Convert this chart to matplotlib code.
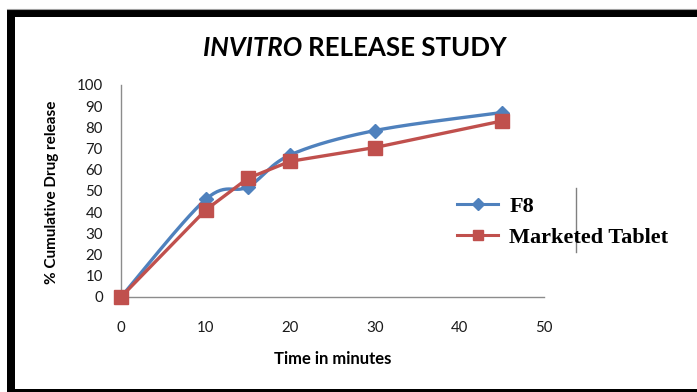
import numpy as np
import matplotlib
matplotlib.use("Agg")
import matplotlib.pyplot as plt
from matplotlib.patches import Rectangle
from matplotlib.lines import Line2D

# Dissolution data: time (min) vs % cumulative drug release
time_min = [0, 10, 15, 20, 30, 45]
f8_release = [0, 46, 52, 67, 78.5, 87]
marketed_release = [0, 41, 56, 64, 70.5, 83]
series_names = ["F8", "Marketed Tablet"]
x_ticks = [0, 10, 20, 30, 40, 50]
y_ticks = [0, 10, 20, 30, 40, 50, 60, 70, 80, 90, 100]

BLUE = "#4F81BD"
RED = "#C0504D"
W, H = 697, 392


def catmull_rom(xs, ys, sx, sy, n=30):
    """Smooth curve through the points (like a spreadsheet 'smoothed line')."""
    P = np.column_stack([np.asarray(xs, float) * sx, np.asarray(ys, float) * sy])
    P = np.vstack([P[0], P, P[-1]])
    out = []
    for i in range(1, len(P) - 2):
        p0, p1, p2, p3 = P[i - 1], P[i], P[i + 1], P[i + 2]
        t = np.linspace(0, 1, n)[:, None]
        seg = 0.5 * ((2 * p1) + (-p0 + p2) * t + (2 * p0 - 5 * p1 + 4 * p2 - p3) * t ** 2
                     + (-p0 + 3 * p1 - 3 * p2 + p3) * t ** 3)
        out.append(seg if i == len(P) - 3 else seg[:-1])
    C = np.vstack(out)
    return C[:, 0] / sx, C[:, 1] / sy


plt.rcParams["font.family"] = ["Lato", "DejaVu Sans"]

fig = plt.figure(figsize=(W / 100, H / 100), dpi=100)
fig.patch.set_facecolor("white")

def px(x, y):
    return x / W, 1 - y / H

l, b = px(121, 297)
r, t = px(544, 85)
ax = fig.add_axes([l, b, r - l, t - b])

sx, sy = 423 / 50, 212 / 100
cx, cy = catmull_rom(time_min, f8_release, sx, sy)
ax.plot(cx, cy, color=BLUE, lw=2.4, solid_capstyle="round", clip_on=False, zorder=3)
ax.plot(time_min, f8_release, ls="none", marker="D", ms=7, color=BLUE,
        clip_on=False, zorder=4)
h_f8 = Line2D([], [], color=BLUE, lw=2.2, marker="D", ms=6)

ax.plot(time_min, marketed_release, color=RED, lw=2.4, marker="s", ms=10,
        clip_on=False, zorder=5)
h_mk = Line2D([], [], color=RED, lw=2.2, marker="s", ms=7)

ax.set_xlim(0, 50)
ax.set_ylim(0, 100)
ax.set_xticks(x_ticks)
ax.set_yticks(y_ticks)
ax.tick_params(length=0, labelsize=10.8, colors="#1a1a1a")
ax.tick_params(axis="y", pad=13)
ax.tick_params(axis="x", pad=17)
for s in ("top", "right"):
    ax.spines[s].set_visible(False)
for s in ("left", "bottom"):
    ax.spines[s].set_color("#8c8c8c")
    ax.spines[s].set_linewidth(1.0)
ax.spines["bottom"].set_bounds(0, 50)

# Legend with a serif bold face
leg = fig.legend([h_f8, h_mk], series_names, loc="center left",
                 bbox_to_anchor=px(457, 222), frameon=False,
                 prop={"family": "Liberation Serif", "weight": "bold", "size": 16},
                 handlelength=1.85, handletextpad=0.5, labelspacing=0.45,
                 borderpad=0, borderaxespad=0)

# thin separator line beside the legend
fig.add_artist(Line2D([576 / W, 576 / W], [1 - 188 / H, 1 - 252 / H],
                      color="#808080", lw=1.0))

# Title: italic first word, upright rest
title_y = 1 - 48 / H
t1 = fig.text(0, title_y, "INVITRO ", fontsize=18.6, fontweight="bold", style="italic",
              va="center", ha="left")
t2 = fig.text(0, title_y, "RELEASE STUDY", fontsize=18.6, fontweight="bold",
              va="center", ha="left")
fig.canvas.draw()
ren = fig.canvas.get_renderer()
w1 = t1.get_window_extent(ren).width
w2 = t2.get_window_extent(ren).width
x0 = 355 - (w1 + w2) / 2
t1.set_x(x0 / W)
t2.set_x((x0 + w1) / W)

fig.text(*px(333, 359), "Time in minutes", fontsize=12, fontweight="bold",
         ha="center", va="center")
fig.text(*px(52, 192), "% Cumulative Drug release", fontsize=11, fontweight="bold",
         rotation=90, ha="center", va="center")

# heavy black frame around the chart area
for (x, y, w, h) in [(7, 10, W - 7, 7), (7, 10, 8, H - 10), (7, 389, W - 7, 3)]:
    fig.add_artist(Rectangle((x / W, 1 - (y + h) / H), w / W, h / H,
                             transform=fig.transFigure, color="black", lw=0))
fig.add_artist(Line2D([7 / W, 1], [1 - 9 / H, 1 - 9 / H], color="#a0a0a0", lw=0.8))

fig.savefig("out.png", dpi=100)
